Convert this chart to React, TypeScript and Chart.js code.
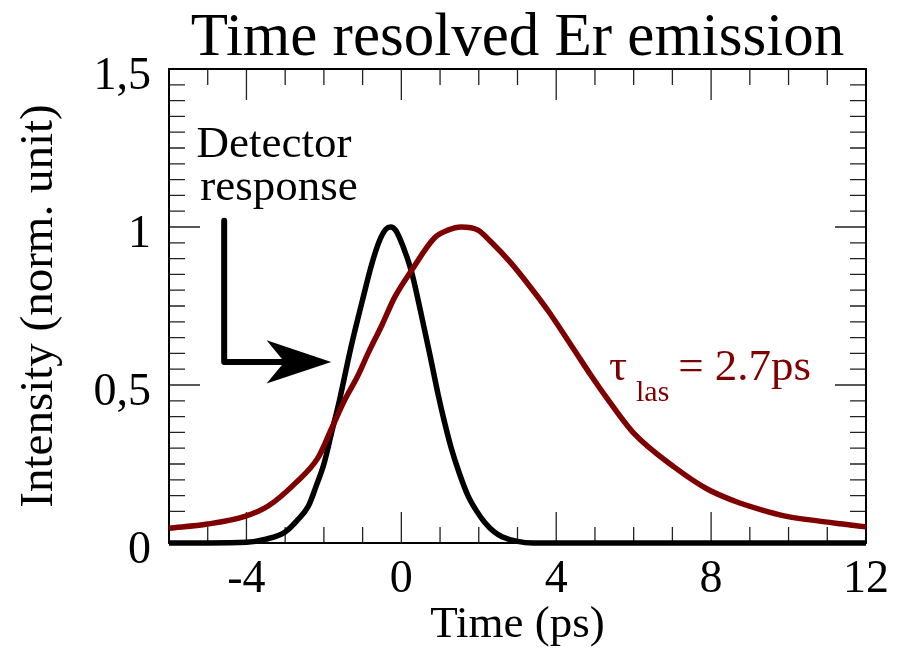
import React, { useEffect, useRef } from 'react';
import { Chart, registerables } from 'chart.js';

Chart.register(...registerables);

const FONT = "'Liberation Serif', 'Times New Roman', Times, serif";
const MAROON = '#7f0000';

// Detector response (black)
const detectorTime = [-6, -5, -4, -3.5, -3, -2.7, -2.4, -2.2, -2, -1.8, -1.6, -1.3, -1, -0.77, -0.56, -0.4, -0.28, -0.15, 0.04, 0.26, 0.52, 0.73, 0.95, 1.1, 1.29, 1.5, 1.72, 1.95, 2.15, 2.4, 2.6, 3, 3.4, 4, 6, 8, 10, 12];
const detectorIntensity = [0, 0, 0.002, 0.012, 0.035, 0.07, 0.117, 0.18, 0.25, 0.35, 0.45, 0.62, 0.77, 0.88, 0.958, 0.993, 1.0, 0.99, 0.94, 0.86, 0.72, 0.6, 0.47, 0.39, 0.3, 0.22, 0.15, 0.1, 0.066, 0.035, 0.02, 0.005, 0, 0, 0, 0, 0, 0];

// Er emission (maroon)
const erTime = [-6, -5, -4, -3.44, -2.75, -2.15, -1.81, -1.46, -1.12, -0.86, -0.5, -0.17, 0.26, 0.86, 1.2, 1.55, 1.98, 2.3, 2.84, 3.3, 3.79, 4.47, 4.9, 5.3, 6.02, 7.05, 7.91, 8.6, 9.3, 9.89, 10.75, 11.4, 12];
const erIntensity = [0.047, 0.06, 0.086, 0.117, 0.188, 0.27, 0.36, 0.453, 0.53, 0.6, 0.69, 0.778, 0.862, 0.966, 0.99, 1.0, 0.99, 0.955, 0.885, 0.815, 0.735, 0.61, 0.53, 0.46, 0.345, 0.24, 0.17, 0.133, 0.105, 0.086, 0.07, 0.06, 0.051];

const xTickValues = [-4, 0, 4, 8, 12];
const yTickValues = [0, 0.5, 1, 1.5];
const yTickLabels = ['0', '0,5', '1', '1,5'];

const X_MIN = -6;
const X_MAX = 12;
const Y_MIN = 0;
const Y_MAX = 1.5;
const X_MINOR_STEP = 1;
const X_MAJOR_STEP = 4;
const Y_MINOR_STEP = 0.05;
const Y_MAJOR_EVERY = 10;

const framePlugin = {
  id: 'frameTicks',
  beforeDatasetsDraw(chart: any) {
    const { ctx, chartArea } = chart;
    const { left, right, top, bottom } = chartArea;
    const xs = chart.scales.x;
    const ys = chart.scales.y;
    ctx.save();
    ctx.strokeStyle = '#222';
    ctx.lineWidth = 1.3;
    ctx.beginPath();
    const nX = Math.round((X_MAX - X_MIN) / X_MINOR_STEP);
    for (let i = 0; i <= nX; i++) {
      const v = X_MIN + i * X_MINOR_STEP;
      const major = Math.abs(v % X_MAJOR_STEP) < 1e-9;
      const len = major ? 31 : 16;
      const p = xs.getPixelForValue(v);
      ctx.moveTo(p, bottom);
      ctx.lineTo(p, bottom - len);
      ctx.moveTo(p, top);
      ctx.lineTo(p, top + len);
    }
    const nY = Math.round((Y_MAX - Y_MIN) / Y_MINOR_STEP);
    for (let i = 0; i <= nY; i++) {
      const v = Y_MIN + i * Y_MINOR_STEP;
      const major = i % Y_MAJOR_EVERY === 0;
      const len = major ? 31 : 16;
      const p = ys.getPixelForValue(v);
      ctx.moveTo(left, p);
      ctx.lineTo(left + len, p);
      ctx.moveTo(right, p);
      ctx.lineTo(right - len, p);
    }
    ctx.stroke();
    ctx.strokeStyle = '#000';
    ctx.lineWidth = 2;
    ctx.strokeRect(left, top, right - left, bottom - top);
    ctx.restore();
  },
};

const annotationPlugin = {
  id: 'annotations',
  afterDatasetsDraw(chart: any) {
    const { ctx } = chart;
    const xs = chart.scales.x;
    const ys = chart.scales.y;
    const px = (v: number) => xs.getPixelForValue(v);
    const py = (v: number) => ys.getPixelForValue(v);
    ctx.save();
    // Arrow
    const ax = -4.575, ayTop = 1.02, ayLine = 0.573, notchX = -3.02, tipX = -1.81, backX = -3.48, backTop = 0.642, backBot = 0.505;
    ctx.strokeStyle = '#000';
    ctx.fillStyle = '#000';
    ctx.lineWidth = 6;
    ctx.lineJoin = 'round';
    ctx.lineCap = 'round';
    ctx.beginPath();
    ctx.moveTo(px(ax), py(ayTop));
    ctx.lineTo(px(ax), py(ayLine));
    ctx.lineTo(px(notchX), py(ayLine));
    ctx.stroke();
    ctx.beginPath();
    ctx.moveTo(px(tipX), py(ayLine));
    ctx.lineTo(px(backX), py(backTop));
    ctx.lineTo(px(notchX), py(ayLine));
    ctx.lineTo(px(backX), py(backBot));
    ctx.closePath();
    ctx.fill();

    // Detector response text
    ctx.textBaseline = 'alphabetic';
    ctx.textAlign = 'left';
    ctx.font = `45px ${FONT}`;
    ctx.fillText('Detector', px(-5.29), py(1.223));
    ctx.fillText('response', px(-5.19), py(1.085));

    // tau label
    ctx.fillStyle = MAROON;
    ctx.font = `45px ${FONT}`;
    const tx = px(5.36);
    const ty = py(0.516);
    ctx.fillText('τ', tx, ty);
    ctx.font = `30px ${FONT}`;
    ctx.fillText('las', px(6.06), ty + 21);
    ctx.font = `45px ${FONT}`;
    ctx.fillText('= 2.7ps', px(7.15), ty);
    ctx.restore();
  },
};

export default function App() {
  const ref = useRef<HTMLCanvasElement | null>(null);

  useEffect(() => {
    document.body.style.margin = '0';
    const canvas = ref.current;
    if (!canvas) return;
    const chart = new Chart(canvas, {
      type: 'line',
      data: {
        datasets: [
          {
            label: 'Er emission',
            data: erTime.map((t, i) => ({ x: t, y: erIntensity[i] })),
            borderColor: MAROON,
            borderWidth: 5.5,
            pointRadius: 0,
            fill: false,
            cubicInterpolationMode: 'monotone',
            clip: false,
          },
          {
            label: 'Detector response',
            data: detectorTime.map((t, i) => ({ x: t, y: detectorIntensity[i] })),
            borderColor: '#000',
            borderWidth: 5.5,
            pointRadius: 0,
            fill: false,
            cubicInterpolationMode: 'monotone',
            clip: false,
          },
        ],
      },
      options: {
        animation: false,
        responsive: false,
        devicePixelRatio: 1,
        layout: { padding: { left: 0, right: 37, top: 0, bottom: 0 } },
        plugins: {
          legend: { display: false },
          tooltip: { enabled: false },
          title: {
            display: true,
            text: 'Time resolved Er emission',
            color: '#000',
            fullSize: false,
            padding: { top: 8, bottom: 0 },
            font: { family: FONT, size: 61, weight: 'normal', lineHeight: 61 / 61 },
          },
        },
        scales: {
          x: {
            type: 'linear',
            position: 'bottom',
            min: X_MIN,
            max: X_MAX,
            grid: { display: false, drawTicks: false },
            border: { display: false },
            afterBuildTicks: (s: any) => {
              s.ticks = xTickValues.map((v) => ({ value: v }));
            },
            afterFit: (s: any) => {
              s.height = 109;
            },
            ticks: {
              color: '#000',
              padding: 9,
              maxRotation: 0,
              autoSkip: false,
              font: { family: FONT, size: 46 },
              callback: (v: any) => String(v),
            },
            title: {
              display: true,
              text: 'Time (ps)',
              color: '#000',
              padding: { top: 0, bottom: 0 },
              font: { family: FONT, size: 45 },
            },
          },
          y: {
            type: 'linear',
            min: Y_MIN,
            max: Y_MAX,
            grid: { display: false, drawTicks: false },
            border: { display: false },
            afterBuildTicks: (s: any) => {
              s.ticks = yTickValues.map((v) => ({ value: v }));
            },
            afterFit: (s: any) => {
              s.width = 169;
            },
            ticks: {
              color: '#000',
              padding: 18,
              labelOffset: 8,
              autoSkip: false,
              font: { family: FONT, size: 46 },
              callback: (v: any) => {
                const idx = yTickValues.findIndex((t) => Math.abs(t - Number(v)) < 1e-9);
                return idx >= 0 ? yTickLabels[idx] : '';
              },
            },
            title: {
              display: true,
              text: 'Intensity (norm. unit)',
              color: '#000',
              padding: { top: 11, bottom: 0 },
              font: { family: FONT, size: 47 },
            },
          },
        },
      },
      plugins: [framePlugin, annotationPlugin],
    });
    return () => chart.destroy();
  }, []);

  return (
    <div style={{ width: 903, height: 652 }}>
      <canvas ref={ref} width={903} height={652} style={{ display: 'block' }} />
    </div>
  );
}
